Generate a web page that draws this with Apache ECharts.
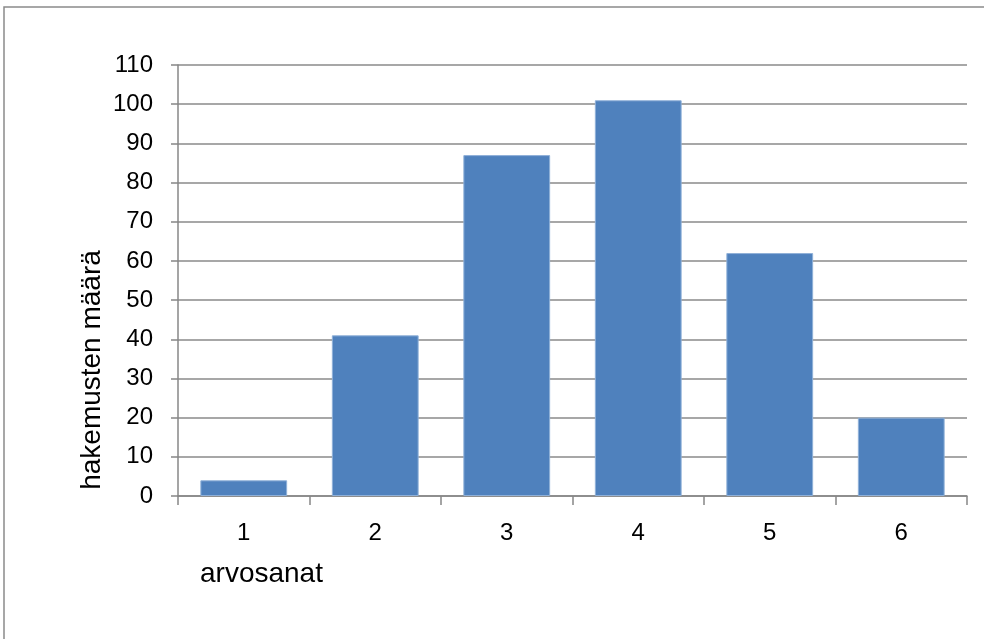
<!DOCTYPE html>
<html>
<head>
<meta charset="utf-8">
<script src="https://cdn.jsdelivr.net/npm/echarts@6/dist/echarts.min.js"></script>
<style>
html,body{margin:0;padding:0;background:#fff;}
#c{width:984px;height:639px;}
</style>
</head>
<body>
<div id="c"></div>
<script>
const categories = ['1', '2', '3', '4', '5', '6'];
const values = [4, 41, 87, 101, 62, 20];
const yTicks = { min: 0, max: 110, interval: 10 };
const xName = 'arvosanat';
const yName = 'hakemusten määrä';

const FONT = '"Liberation Sans", Arial, sans-serif';
const chart = echarts.init(document.getElementById('c'));
chart.setOption({
  animation: false,
  backgroundColor: '#fff',
  grid: { left: 178, right: 17, top: 65, bottom: 143, containLabel: false },
  xAxis: {
    type: 'category',
    data: categories,
    axisLine: { lineStyle: { color: '#878787', width: 1.5 } },
    axisTick: { show: true, length: 9, alignWithLabel: false, lineStyle: { color: '#878787', width: 1.5 } },
    axisLabel: { color: '#000', fontSize: 24, fontFamily: FONT, margin: 25 },
    splitLine: { show: false }
  },
  yAxis: {
    type: 'value',
    min: yTicks.min, max: yTicks.max, interval: yTicks.interval,
    axisLine: { show: true, lineStyle: { color: '#878787', width: 1.5 } },
    axisTick: { show: true, length: 7, lineStyle: { color: '#878787', width: 1.5 } },
    axisLabel: { color: '#000', fontSize: 24, fontFamily: FONT, margin: 25 },
    splitLine: { show: true, lineStyle: { color: '#8a8a8a', width: 1.5 } }
  },
  series: [{
    type: 'bar',
    data: values,
    barCategoryGap: '34%',
    itemStyle: { color: '#4F81BD', borderColor: '#8fb0d8', borderWidth: 1 }
  }],
  graphic: [
    { type: 'rect', shape: { x: 4, y: 7, width: 1200, height: 1000 }, style: { fill: 'none', stroke: '#8a8a8a', lineWidth: 1.5 }, z: -1 },
    { type: 'text', left: 200, top: 560, style: { text: xName, fontSize: 28, fontFamily: FONT, fill: '#000' } },
    { type: 'text', x: 92, y: 370, rotation: Math.PI / 2, style: { text: yName, fontSize: 28, fontFamily: FONT, fill: '#000', align: 'center', verticalAlign: 'middle' } }
  ]
});
</script>
</body>
</html>
